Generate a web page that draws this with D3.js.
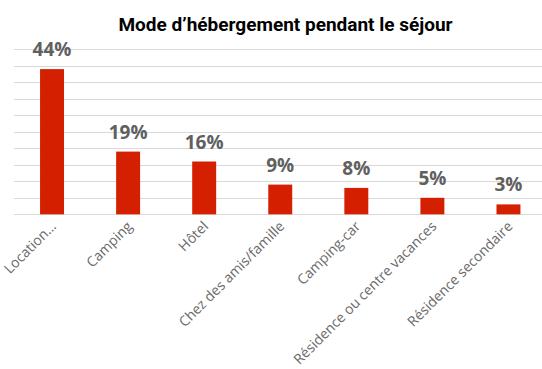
<!DOCTYPE html>
<html>
<head>
<meta charset="utf-8">
<script src="https://cdn.jsdelivr.net/npm/d3@7"></script>
<style>
  html, body { margin: 0; padding: 0; background: #fff; }
  svg { display: block; }
</style>
</head>
<body>
<svg id="chart" width="542" height="369"></svg>
<script>
// Accommodation type during the stay (share of respondents)
const categories = [
  "Location…",
  "Camping",
  "Hôtel",
  "Chez des amis/famille",
  "Camping-car",
  "Résidence ou centre vacances",
  "Résidence secondaire"
];
const shares = [0.44, 0.19, 0.16, 0.09, 0.08, 0.05, 0.03];
const gridTicks = [0, 0.05, 0.10, 0.15, 0.20, 0.25, 0.30, 0.35, 0.40, 0.45, 0.50];
const title = "Mode d’hébergement pendant le séjour";

const data = categories.map((c, i) => ({ category: c, value: shares[i] }));

const svg = d3.select("#chart");
const W = 542, H = 369;
const plot = { left: 14, right: 546.5, top: 49.3, bottom: 214.3 };

const x = d3.scaleBand()
  .domain(categories)
  .range([plot.left, plot.right])
  .paddingInner(0.685)
  .paddingOuter(0.3425);

const y = d3.scaleLinear()
  .domain([0, 0.5])
  .range([plot.bottom, plot.top]);

// title
svg.append("text")
  .attr("x", 285.5)
  .attr("y", 31)
  .attr("text-anchor", "middle")
  .attr("font-family", "Roboto, sans-serif")
  .attr("font-weight", 700)
  .attr("font-size", 19)
  .attr("fill", "#000")
  .text(title);

// horizontal gridlines
svg.append("g")
  .selectAll("line")
  .data(gridTicks)
  .join("line")
  .attr("x1", plot.left)
  .attr("x2", W)
  .attr("y1", d => Math.round(y(d)) + 0.5)
  .attr("y2", d => Math.round(y(d)) + 0.5)
  .attr("stroke", "#d9d9d9")
  .attr("stroke-width", 1);

// bars
svg.append("g")
  .selectAll("rect")
  .data(data)
  .join("rect")
  .attr("x", d => x(d.category))
  .attr("width", x.bandwidth())
  .attr("y", d => y(d.value))
  .attr("height", d => y(0) - y(d.value))
  .attr("fill", "#d42000");

// value labels
svg.append("g")
  .selectAll("text")
  .data(data)
  .join("text")
  .attr("x", d => x(d.category) + x.bandwidth() / 2)
  .attr("y", d => y(d.value) - 13)
  .attr("text-anchor", "middle")
  .attr("font-family", "'Open Sans', sans-serif")
  .attr("font-weight", 700)
  .attr("font-size", 19)
  .attr("fill", "#606060")
  .text(d => Math.round(d.value * 100) + "%");

// category axis labels, rotated
const xAxis = d3.axisBottom(x).tickSize(0).tickPadding(0);
const gx = svg.append("g")
  .attr("transform", `translate(0,${plot.bottom})`)
  .call(xAxis);
gx.select(".domain").remove();
gx.selectAll(".tick text")
  .attr("font-family", "'Open Sans', sans-serif")
  .attr("font-size", 14)
  .attr("fill", "#6a6a6a")
  .attr("text-anchor", "end")
  .attr("dy", null)
  .attr("y", 0)
  .attr("transform", "translate(5,13) rotate(-45)");
</script>
</body>
</html>
